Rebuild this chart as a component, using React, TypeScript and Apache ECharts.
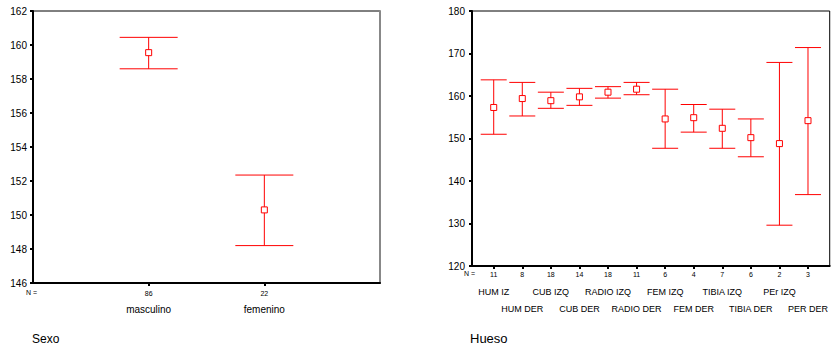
import React, { useEffect, useRef } from "react";
import * as echarts from "echarts";

// Left chart: Sexo
const sexoCategories = ["masculino", "femenino"];
const sexoN = [86, 22];
const sexoMean = [159.55, 150.3];
const sexoLow = [158.6, 148.2];
const sexoHigh = [160.45, 152.35];

// Right chart: Hueso
const huesoCategories = [
  "HUM IZ", "HUM DER", "CUB IZQ", "CUB DER", "RADIO IZQ", "RADIO DER",
  "FEM IZQ", "FEM DER", "TIBIA IZQ", "TIBIA DER", "PEr IZQ", "PER DER",
];
const huesoN = [11, 8, 18, 14, 18, 11, 6, 4, 7, 6, 2, 3];
const huesoMean = [157.3, 159.4, 158.9, 159.8, 160.9, 161.6, 154.6, 154.9, 152.4, 150.2, 148.8, 154.2];
const huesoLow = [151.0, 155.3, 157.1, 157.8, 159.5, 160.3, 147.7, 151.5, 147.7, 145.7, 129.6, 136.8];
const huesoHigh = [163.8, 163.2, 160.9, 161.8, 162.2, 163.2, 161.6, 158.0, 156.9, 154.6, 167.9, 171.4];

const sexoTicks = [146, 148, 150, 152, 154, 156, 158, 160, 162];
const huesoTicks = [120, 130, 140, 150, 160, 170, 180];

const FONT = "Arial, 'Liberation Sans', sans-serif";

function makeRenderItem(capWidth: number) {
  return (params: any, api: any) => {
    const x = api.value(0);
    const lo = api.coord([x, api.value(1)]);
    const hi = api.coord([x, api.value(2)]);
    const m = api.coord([x, api.value(3)]);
    const hw = capWidth / 2;
    const st = { stroke: "#ff0000", lineWidth: 1 };
    return {
      type: "group",
      children: [
        { type: "line", shape: { x1: hi[0], y1: hi[1], x2: lo[0], y2: lo[1] }, style: st },
        { type: "line", shape: { x1: hi[0] - hw, y1: hi[1], x2: hi[0] + hw, y2: hi[1] }, style: st },
        { type: "line", shape: { x1: lo[0] - hw, y1: lo[1], x2: lo[0] + hw, y2: lo[1] }, style: st },
        {
          type: "rect",
          shape: { x: m[0] - 3, y: m[1] - 3, width: 6, height: 6 },
          style: { fill: "#ffffff", stroke: "#ff0000", lineWidth: 1 },
        },
      ],
    };
  };
}

export default function App() {
  const ref = useRef<HTMLDivElement>(null);
  useEffect(() => {
    if (!ref.current) return;
    const chart = echarts.init(ref.current, undefined, { renderer: "svg" });

    const sexoData = sexoCategories.map((_, i) => [i + 1, sexoLow[i], sexoHigh[i], sexoMean[i]]);
    const huesoData = huesoCategories.map((_, i) => [i, huesoLow[i], huesoHigh[i], huesoMean[i]]);

    const axisLine = { show: true, onZero: false, lineStyle: { color: "#000", width: 2 } };
    const axisTick = { show: true, length: 3, lineStyle: { color: "#000", width: 2 } };
    const sexoPos = sexoCategories.map((_, i) => i + 1);
    const huesoPos = huesoCategories.map((_, i) => i);
    const evenPos = huesoPos.filter((i) => i % 2 === 0);
    const oddPos = huesoPos.filter((i) => i % 2 === 1);

    const hiddenAxis = (gridIndex: number, min: number, max: number, values: number[], margin: number, fmt: (v: number) => string, fontSize: number, lineHeight: number) => ({
      type: "value", gridIndex, min, max, position: "bottom",
      splitLine: { show: false },
      axisLine: { show: false, onZero: false },
      axisTick: { show: false },
      axisLabel: {
        customValues: values,
        showMinLabel: true, showMaxLabel: true, hideOverlap: false,
        margin, fontSize, lineHeight, fontFamily: FONT, color: "#000",
        formatter: fmt,
      },
    });

    chart.setOption({
      animation: false,
      grid: [
        { left: 33, top: 11, width: 347, height: 272, show: true, borderColor: "#000", borderWidth: 1 },
        { left: 472, top: 11, width: 362, height: 255, show: true, borderColor: "#000", borderWidth: 1 },
      ],
      xAxis: [
        {
          type: "value", gridIndex: 0, min: 0, max: 3, position: "bottom",
          splitLine: { show: false },
          axisLine,
          axisTick: { ...axisTick, customValues: sexoPos },
          axisLabel: {
            customValues: sexoPos,
            showMinLabel: true, showMaxLabel: true, hideOverlap: false,
            margin: 5, fontSize: 7, lineHeight: 10, fontFamily: FONT, color: "#000",
            formatter: (v: number) => String(sexoN[Math.round(v) - 1]),
          },
        },
        hiddenAxis(0, 0, 3, sexoPos, 15, (v) => sexoCategories[Math.round(v) - 1], 10, 22),
        {
          type: "value", gridIndex: 1, min: -0.76, max: 11.76, position: "bottom",
          splitLine: { show: false },
          axisLine,
          axisTick: { ...axisTick, customValues: huesoPos },
          axisLabel: {
            customValues: huesoPos,
            showMinLabel: true, showMaxLabel: true, hideOverlap: false,
            margin: 4, fontSize: 7, lineHeight: 8, fontFamily: FONT, color: "#000",
            formatter: (v: number) => String(huesoN[Math.round(v)]),
          },
        },
        hiddenAxis(1, -0.76, 11.76, evenPos, 18, (v) => huesoCategories[Math.round(v)], 9, 16),
        hiddenAxis(1, -0.76, 11.76, oddPos, 35, (v) => huesoCategories[Math.round(v)], 9, 16),
      ],
      yAxis: [
        {
          type: "value", gridIndex: 0, min: 146, max: 162, interval: 2,
          splitLine: { show: false },
          axisLine,
          axisTick,
          axisLabel: {
            customValues: sexoTicks,
            margin: 6, fontSize: 10, fontFamily: FONT, color: "#000",
          },
        },
        {
          type: "value", gridIndex: 0, min: 146, max: 162, position: "right",
          splitLine: { show: false },
          axisLine: { show: true, onZero: false, lineStyle: { color: "#888", width: 2 } },
          axisTick: { show: false },
          axisLabel: { show: false },
        },
        {
          type: "value", gridIndex: 1, min: 120, max: 180, interval: 10,
          splitLine: { show: false },
          axisLine,
          axisTick,
          axisLabel: {
            customValues: huesoTicks,
            margin: 7, fontSize: 10, fontFamily: FONT, color: "#000",
          },
        },
      ],
      series: [
        {
          type: "custom", xAxisIndex: 0, yAxisIndex: 0,
          renderItem: makeRenderItem(58),
          encode: { x: 0, y: [1, 2, 3] },
          data: sexoData,
          clip: false,
        },
        {
          type: "custom", xAxisIndex: 2, yAxisIndex: 2,
          renderItem: makeRenderItem(26),
          encode: { x: 0, y: [1, 2, 3] },
          data: huesoData,
          clip: false,
        },
      ],
      graphic: [
        { type: "text", left: 26, top: 289, style: { text: "N =", fontSize: 7, fontFamily: FONT, fill: "#000" } },
        { type: "text", left: 464, top: 270, style: { text: "N =", fontSize: 7, fontFamily: FONT, fill: "#000" } },
        { type: "text", left: 32, top: 333, style: { text: "Sexo", fontSize: 12, fontFamily: FONT, fill: "#000" } },
        { type: "text", left: 470, top: 332, style: { text: "Hueso", fontSize: 13, fontFamily: FONT, fill: "#000" } },
      ],
    });
    return () => chart.dispose();
  }, []);
  return (
    <div
      ref={ref}
      style={{ position: "fixed", left: 0, top: 0, width: 831, height: 349, background: "#fff" }}
    />
  );
}
